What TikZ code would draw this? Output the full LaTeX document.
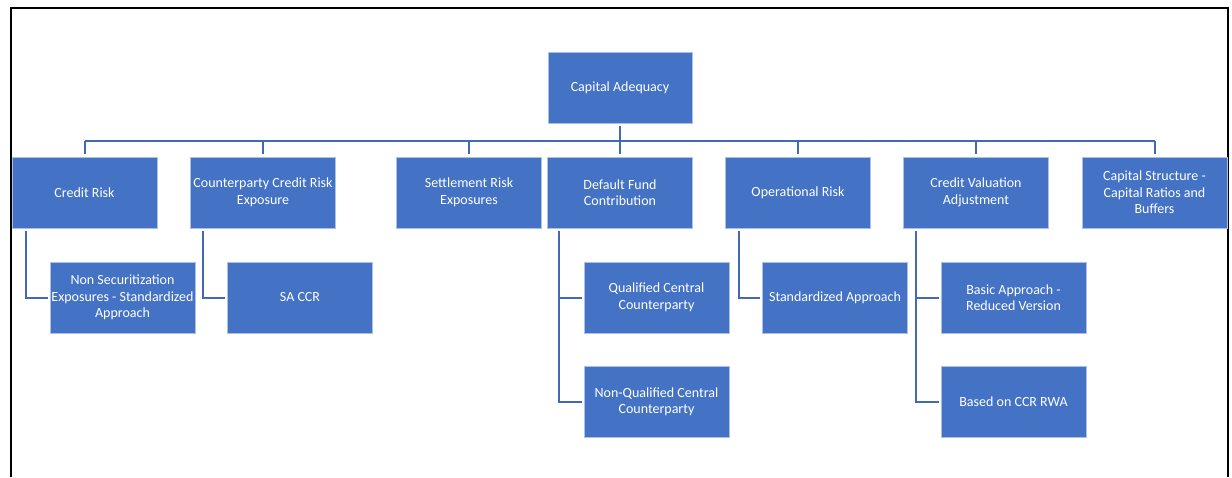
\documentclass[tikz,border=0pt]{standalone}
\usepackage{fontspec}
\setmainfont{Carlito}
\definecolor{boxblue}{HTML}{4472C4}
\definecolor{lineblue}{HTML}{4169B5}
\tikzset{
  box/.style={rectangle, fill=boxblue, draw=white!55!boxblue, line width=0.8pt,
    minimum width=145pt, minimum height=71pt, inner sep=0pt, text=white,
    align=center, font=\fontsize{14}{16.5}\selectfont},
  conn/.style={draw=lineblue, line width=2pt},
  frameline/.style={draw=black, line width=2pt}
}
\begin{document}
\begin{tikzpicture}[x=1pt,y=-1pt]
\useasboundingbox (0,0) rectangle (1232,477);
\draw[frameline] (11,477) -- (11,8) -- (1228,8) -- (1228,477);

\node[box, minimum width=144pt] (top) at (620,87.5) {Capital Adequacy};

\node[box] (cr)  at (84.5,192.5) {Credit Risk};
\node[box] (ccr) at (263,192.5) {Counterparty Credit Risk\\Exposure};
\node[box] (sre) at (469,192.5) {Settlement Risk\\Exposures};
\node[box] (dfc) at (620,192.5) {Default Fund\\Contribution};
\node[box] (opr) at (798,192.5) {Operational Risk};
\node[box] (cva) at (976,192.5) {Credit Valuation\\Adjustment};
\node[box] (cs)  at (1154.5,192.5) {Capital Structure -\\Capital Ratios and\\Buffers};

\node[box] (ns)  at (122.5,297.5) {Non Securitization\\Exposures - Standardized\\Approach};
\node[box] (sa)  at (300,297.5) {SA CCR};
\node[box] (qcc) at (656.5,297.5) {Qualified Central\\Counterparty};
\node[box] (nqc) at (656.5,402) {Non-Qualified Central\\Counterparty};
\node[box] (std) at (835,297.5) {Standardized Approach};
\node[box] (bas) at (1013.5,297.5) {Basic Approach -\\Reduced Version};
\node[box] (ccrw) at (1013.5,402) {Based on CCR RWA};

\coordinate (bus) at (620,141);

% bus and drops
\draw[conn] (cr.north |- bus) -- (cs.north |- bus);
\draw[conn, shorten <=3pt, shorten >=3pt] (top.south) -- (dfc.north);
\foreach \n in {cr,ccr,sre,opr,cva,cs}{
  \draw[conn, shorten >=3pt] (\n.north |- bus) -- (\n.north);
}

% children
\draw[conn] ([xshift=14pt,yshift=-3pt]cr.south west) |- ([xshift=-2pt]ns.west);
\draw[conn] ([xshift=13pt,yshift=-3pt]ccr.south west) |- ([xshift=-2pt]sa.west);
\draw[conn] ([xshift=12pt,yshift=-3pt]dfc.south west) |- ([xshift=-2pt]nqc.west);
\draw[conn] ([xshift=12pt,yshift=-3pt]dfc.south west) |- ([xshift=-2pt]qcc.west);
\draw[conn] ([xshift=14pt,yshift=-3pt]opr.south west) |- ([xshift=-2pt]std.west);
\draw[conn] ([xshift=13pt,yshift=-3pt]cva.south west) |- ([xshift=-2pt]ccrw.west);
\draw[conn] ([xshift=13pt,yshift=-3pt]cva.south west) |- ([xshift=-2pt]bas.west);
\end{tikzpicture}
\end{document}
